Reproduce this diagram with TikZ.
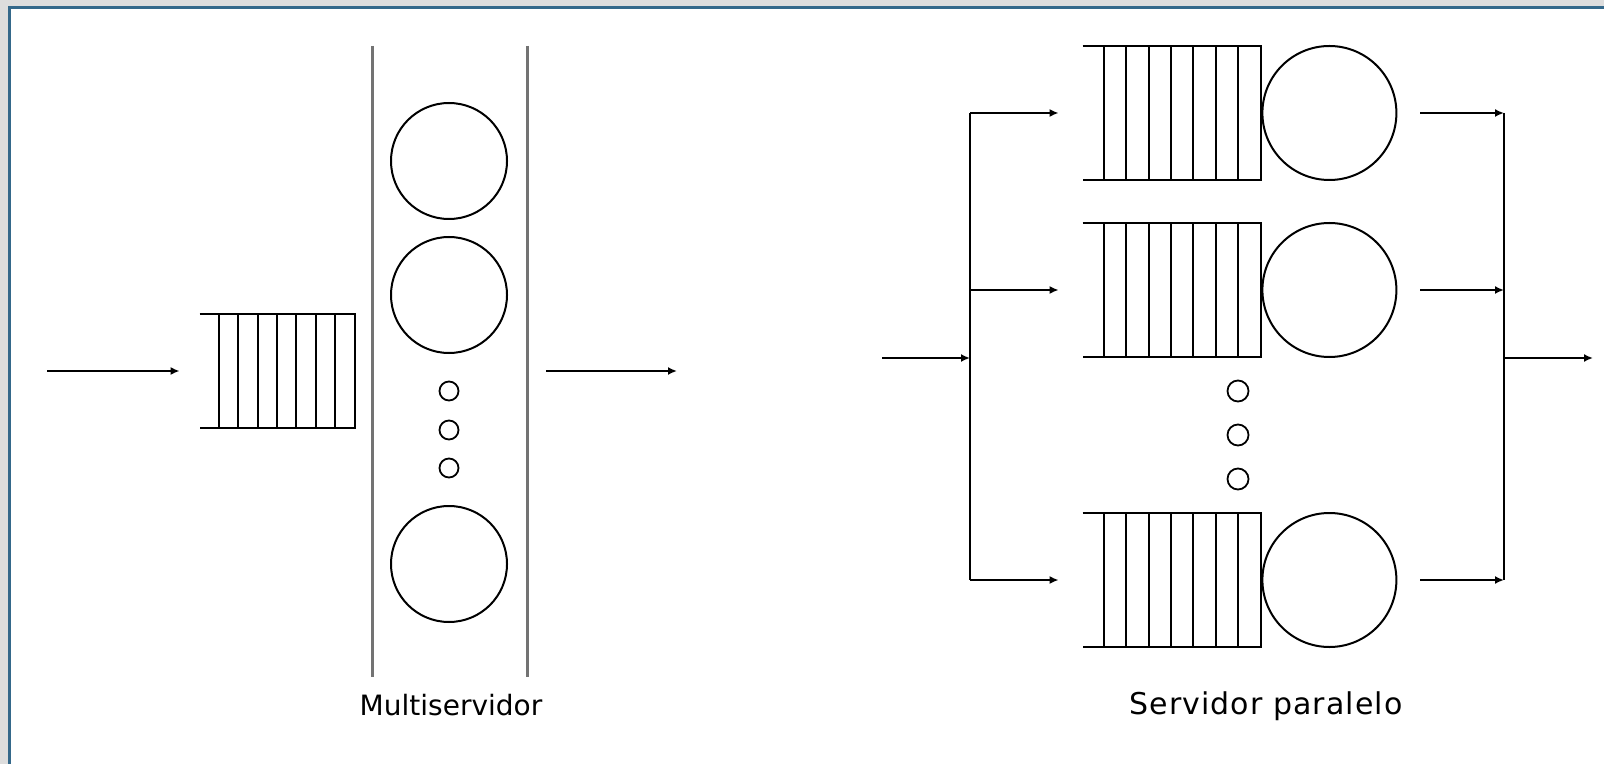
\documentclass[tikz,border=0pt]{standalone}
\usepackage{fontspec}
\setmainfont{DejaVu Sans}
\usetikzlibrary{arrows.meta,positioning}
\definecolor{framebg}{RGB}{221,221,221}
\definecolor{frameline}{RGB}{52,104,138}
\tikzset{srv/.style={draw,circle,line width=1pt,minimum size=58pt,inner sep=0pt},
 bigsrv/.style={srv,minimum size=67pt},
 dotc/.style={draw,circle,line width=0.9pt,minimum size=9.5pt,inner sep=0pt},
 q/.style={inner sep=0pt,minimum width=77.5pt,minimum height=57pt},
 bigq/.style={inner sep=0pt,minimum width=89pt,minimum height=67pt},
 flow/.style={-{Latex[length=4.5pt,width=4pt]},line width=0.9pt},
 wire/.style={line width=1pt},wall/.style={line width=1.5pt,black!55},
 lbl/.style={font=\fontsize{14}{16}\selectfont,anchor=base}}
\begin{document}
\begin{tikzpicture}[x=0.5pt,y=-0.5pt]
\useasboundingbox (0,0) rectangle (1604,764);
% frame
\fill[framebg] (0,0) rectangle (1604,764);
\fill[white] (9,7) rectangle (1604,764);
\draw[frameline,line width=1.35pt] (9.3,764) -- (9.3,7.3) -- (1604,7.3);

% multiservidor
\node[q](lq) at (277.5,371){};
\draw[wire](lq.north west)--(lq.north east)--(lq.south east)--(lq.south west);
\foreach \x in {219,238.3,...,340}\draw[wire](\x,314)--(\x,428);
\coordinate (wl) at (372,46);\coordinate (wr) at (527,46);
\draw[wall](wl)--++(0,631);\draw[wall](wr)--++(0,631);
\node[srv](m1) at (449,161){};
\node[srv](m2) at (449,295){};
\node[srv](m3) at (449,564){};
\node[dotc](md1) at (449,391){};\node[dotc](md2) at (449,430){};\node[dotc](md3) at (449,468){};
\coordinate (inL) at (47,371);\coordinate (outL0) at (546,371);\coordinate (outL) at (677,371);
\draw[flow](inL)--([xshift=-10pt]lq.west);
\draw[flow](outL0)--(outL);
\node[lbl](mlab) at (451,715){Multiservidor};

% servidor paralelo
\foreach \n/\y in {1/113,2/290,3/580}{
 \node[bigq](q\n) at (1172,\y){};
 \draw[wire](q\n.north west)--(q\n.north east)--(q\n.south east)--(q\n.south west);
 \foreach \x in {1104,1126.3,...,1240}\draw[wire](\x,\y-67)--(\x,\y+67);
 \node[bigsrv,right=0pt of q\n](s\n){};
}
\node[dotc,minimum size=10.5pt](pd1) at (1238,391){};
\node[dotc,minimum size=10.5pt](pd2) at (1238,435){};
\node[dotc,minimum size=10.5pt](pd3) at (1238,479){};
\coordinate (inR) at (882,358);\coordinate (split) at (970,358);
\coordinate (merge) at (1504,358);\coordinate (outR) at (1593,358);
\draw[flow](inR)--(split);
\draw[wire](split |- q1)--(split |- q3);
\foreach \n in {1,2,3}{
 \draw[flow](split |- q\n)--([xshift=-12pt]q\n.west);
 \draw[flow]([xshift=11.5pt]s\n.east)--(merge |- s\n);
}
\draw[wire](merge |- s1)--(merge |- s3);
\draw[flow](merge)--(outR);
\node[lbl,font=\fontsize{15}{17}\selectfont](plab) at (1266,714){\addfontfeature{LetterSpace=3.6}Servidor paralelo};
\end{tikzpicture}
\end{document}
